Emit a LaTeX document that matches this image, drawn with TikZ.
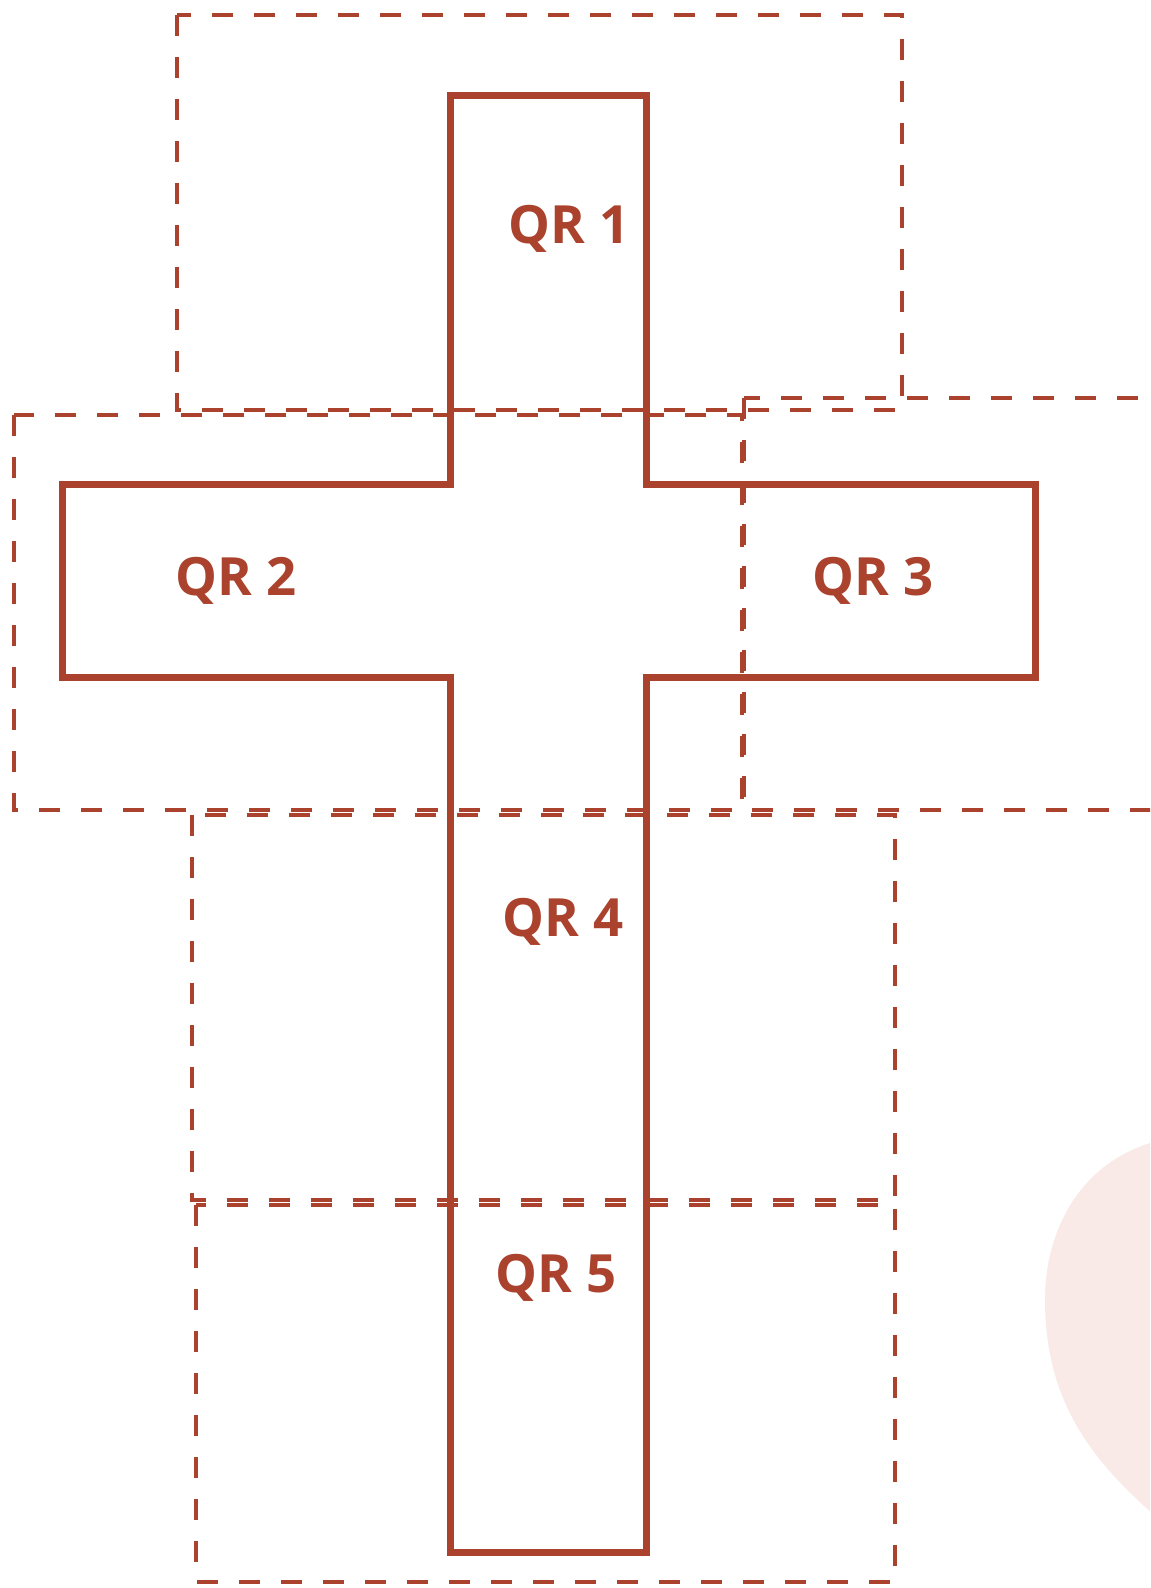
\documentclass[tikz,border=0pt]{standalone}
\usepackage{fontspec}
\setsansfont{Open Sans}
\usetikzlibrary{positioning}
\definecolor{rust}{RGB}{170,66,45}
\definecolor{blush}{RGB}{249,233,231}

\begin{document}
\begin{tikzpicture}[
    x=0.02cm, y=-0.02cm,
    cross/.style={draw=rust, line width=0.14cm, line join=miter},
    zone/.style={draw=rust, line width=0.07cm, dash pattern=on 0.42cm off 0.42cm},
    lbl/.style={font=\sffamily\bfseries\fontsize{30}{34}\selectfont, text=rust, inner sep=0pt},
    every node/.style={inner sep=2pt}]

    \useasboundingbox (0,0) rectangle (1150,1588);

    % ── background blob ──────────────────────────────────────
    \begin{scope}
      \clip (0,0) rectangle (1150,1588);
      \fill[blush] (1150,1143) .. controls (1080,1165) and (1045,1230) .. (1045,1300)
        .. controls (1045,1400) and (1090,1460) .. (1160,1520) -- (1160,1143) -- cycle;
    \end{scope}

    % ── dashed zones ─────────────────────────────────────────
    \begin{scope}
      \clip (0,0) rectangle (1150,1588);
      \draw[zone] (177,15) rectangle (902,410);
      \draw[zone] (14,415) rectangle (742,810);
      \draw[zone] (744,398) rectangle (1180,810);
      \draw[zone] (192,815) rectangle (895,1200);
      \draw[zone] (196,1205) rectangle (895,1582);
    \end{scope}

    % ── cross ────────────────────────────────────────────────
    \draw[cross] (450,96) -- (646,96) -- (646,484) -- (1035,484) -- (1035,677)
      -- (646,677) -- (646,1552) -- (450,1552) -- (450,677) -- (62,677)
      -- (62,484) -- (450,484) -- cycle;

    % ── labels ───────────────────────────────────────────────
    \node[lbl] (q1) at (569,229) {QR 1};
    \node[lbl] (q2) at (236,581) {QR 2};
    \node[lbl] (q3) at (873,581) {QR 3};
    \node[lbl] (q4) at (563,922) {QR 4};
    \node[lbl] (q5) at (556,1278) {QR 5};

\end{tikzpicture}
\end{document}
